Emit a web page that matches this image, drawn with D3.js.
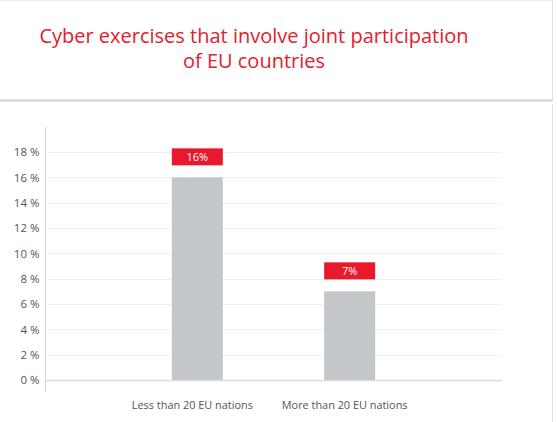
<!DOCTYPE html>
<html>
<head>
<meta charset="utf-8">
<script src="https://cdn.jsdelivr.net/npm/d3@7"></script>
<style>
  body { margin: 0; background: #fff; font-family: "Open Sans", sans-serif; }
</style>
</head>
<body>
<script>
// data
var categories = ["Less than 20 EU nations", "More than 20 EU nations"];
var values = [16, 7];
var valueLabels = ["16%", "7%"];
var yTicks = [0, 2, 4, 6, 8, 10, 12, 14, 16, 18];
var titleLines = ["Cyber exercises that involve joint participation", "of EU countries"];

var W = 557, H = 422;
var red = "#e8192c";

var svg = d3.select("body").append("svg")
    .attr("width", W).attr("height", H);

// panels
svg.append("rect").attr("x", 0).attr("y", 0).attr("width", W).attr("height", H).attr("fill", "#fff");
svg.append("line").attr("x1", 0).attr("x2", 552).attr("y1", 0.5).attr("y2", 0.5)
    .attr("stroke", "#ececec");
svg.append("line").attr("x1", 552.5).attr("x2", 552.5).attr("y1", 0).attr("y2", 100)
    .attr("stroke", "#e2e2e2");
svg.append("rect").attr("x", 0).attr("y", 99).attr("width", 553).attr("height", 3)
    .attr("fill", "#dedede");
svg.append("line").attr("x1", 552.5).attr("x2", 552.5).attr("y1", 104).attr("y2", H)
    .attr("stroke", "#e2e2e2");

// title
svg.append("g").selectAll("text")
    .data(titleLines)
    .enter().append("text")
    .attr("x", 254)
    .attr("y", function(d, i) { return 43 + i * 25; })
    .attr("text-anchor", "middle")
    .attr("font-size", 20)
    .attr("fill", "#e2202e")
    .text(function(d) { return d; });

// scales
var y = d3.scaleLinear().domain([0, 20]).range([380, 126.7]);
var x = d3.scalePoint().domain(categories).range([45, 502]).padding(1);
var barW = 51;

// gridlines
svg.append("g").selectAll("line")
    .data(yTicks.filter(function(d) { return d > 0; }))
    .enter().append("line")
    .attr("x1", 47).attr("x2", 502)
    .attr("y1", function(d) { return Math.round(y(d)) + 0.5; })
    .attr("y2", function(d) { return Math.round(y(d)) + 0.5; })
    .attr("stroke", "#f0f0f0");

// y axis
var yAxis = svg.append("g")
    .attr("transform", "translate(45.5,0)")
    .call(d3.axisLeft(y).tickValues(yTicks).tickSize(0).tickPadding(6)
        .tickFormat(function(d) { return d + " %"; }));
yAxis.select(".domain").remove();
yAxis.selectAll("text")
    .attr("font-family", "Open Sans, sans-serif")
    .attr("font-size", 11.5)
    .attr("fill", "#555");
svg.append("line").attr("x1", 45.5).attr("x2", 45.5)
    .attr("y1", y(20)).attr("y2", 392)
    .attr("stroke", "#d6d6d6");

// bars
svg.append("g").selectAll("rect")
    .data(values)
    .enter().append("rect")
    .attr("x", function(d, i) { return x(categories[i]) - barW / 2; })
    .attr("y", function(d) { return y(d); })
    .attr("width", barW)
    .attr("height", function(d) { return y(0) - y(d); })
    .attr("fill", "#c4c7ca");

// baseline
svg.append("line").attr("x1", 45).attr("x2", 502)
    .attr("y1", 380.5).attr("y2", 380.5)
    .attr("stroke", "#dcdcdc").attr("stroke-width", 1.5);

// value label boxes
var boxes = svg.append("g").selectAll("g")
    .data(values)
    .enter().append("g");
boxes.append("rect")
    .attr("x", function(d, i) { return x(categories[i]) - barW / 2; })
    .attr("y", function(d) { return y(d) - 29; })
    .attr("width", barW)
    .attr("height", 17)
    .attr("fill", red);
boxes.append("text")
    .attr("x", function(d, i) { return x(categories[i]); })
    .attr("y", function(d) { return y(d) - 16.5; })
    .attr("text-anchor", "middle")
    .attr("font-size", 11)
    .attr("fill", "#fff")
    .text(function(d, i) { return valueLabels[i]; });

// category labels
svg.append("g").selectAll("text")
    .data(categories)
    .enter().append("text")
    .attr("x", function(d) { return x(d) - 5; })
    .attr("y", 409)
    .attr("text-anchor", "middle")
    .attr("font-size", 10.9)
    .attr("fill", "#555")
    .text(function(d) { return d; });
</script>
</body>
</html>
